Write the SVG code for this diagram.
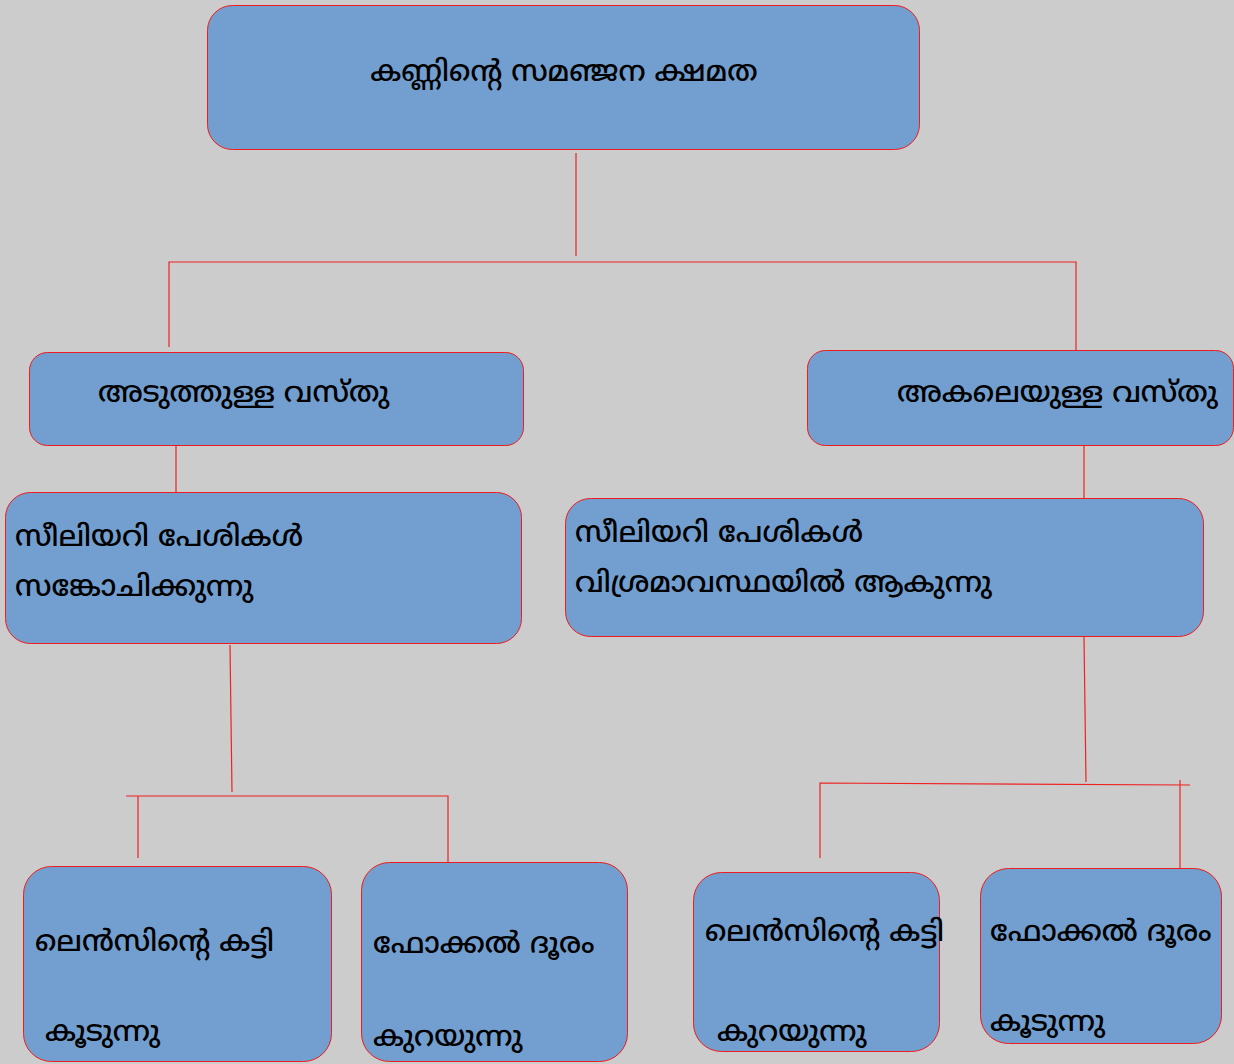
<svg xmlns="http://www.w3.org/2000/svg" width="1234" height="1064" viewBox="0 0 1234 1064">
<style>
.box{fill:#729fcf;stroke:#ee1c1c;stroke-width:1}
.t{font-family:"Noto Sans Malayalam","Noto Sans","DejaVu Sans",sans-serif;font-size:29px;font-weight:500;fill:#000}
.c{stroke:#ee2222;stroke-width:1.2;fill:none}
</style>
<rect width="1234" height="1064" fill="#cccccc"/>
<g id="connectors">
<path class="c" d="M576,153 V256"/>
<path class="c" d="M169,347 V262 H1076 V350"/>
<path class="c" d="M176,446 V492"/>
<path class="c" d="M1084,446 V498"/>
<path class="c" d="M230,645 L232,792"/>
<path class="c" d="M126,796 H448 V862"/>
<path class="c" d="M138,796 V858"/>
<path class="c" d="M1084,637 L1086,782"/>
<path class="c" d="M820,858 V783 L1190,785"/>
<path class="c" d="M1180,780 V868"/>
</g>
<g id="root"><rect class="box" x="207.5" y="5.5" width="712" height="144" rx="25"/><text class="t" x="564" y="81" text-anchor="middle">കണ്ണിന്റെ സമഞ്ജന ക്ഷമത</text></g>
<g id="near"><rect class="box" x="29.5" y="352.5" width="494" height="93" rx="18"/><text class="t" x="98" y="402">അടുത്തുള്ള വസ്തു</text></g>
<g id="far"><rect class="box" x="807.5" y="350.5" width="426" height="95" rx="18"/><text class="t" x="897" y="402">അകലെയുള്ള വസ്തു</text></g>
<g id="near-muscle"><rect class="box" x="5.5" y="492.5" width="516" height="151" rx="25"/><text class="t" x="15" y="546">സീലിയറി പേശികൾ</text><text class="t" x="15" y="596">സങ്കോചിക്കുന്നു</text></g>
<g id="far-muscle"><rect class="box" x="565.5" y="498.5" width="638" height="138" rx="25"/><text class="t" x="575" y="542">സീലിയറി പേശികൾ</text><text class="t" x="575" y="592">വിശ്രമാവസ്ഥയിൽ ആകുന്നു</text></g>
<g id="near-lens"><rect class="box" x="23.5" y="866.5" width="308" height="195" rx="28"/><text class="t" x="35" y="951">ലെൻസിന്റെ കട്ടി</text><text class="t" x="45" y="1041">കൂടുന്നു</text></g>
<g id="near-focal"><rect class="box" x="361.5" y="862.5" width="266" height="199" rx="28"/><text class="t" x="373" y="953">ഫോക്കൽ ദൂരം</text><text class="t" x="373" y="1046">കുറയുന്നു</text></g>
<g id="far-lens"><rect class="box" x="693.5" y="872.5" width="246" height="179" rx="28"/><text class="t" x="705" y="941">ലെൻസിന്റെ കട്ടി</text><text class="t" x="717" y="1041">കുറയുന്നു</text></g>
<g id="far-focal"><rect class="box" x="980.5" y="868.5" width="241" height="175" rx="28"/><text class="t" x="990" y="941">ഫോക്കൽ ദൂരം</text><text class="t" x="990" y="1031">കൂടുന്നു</text></g>
</svg>
